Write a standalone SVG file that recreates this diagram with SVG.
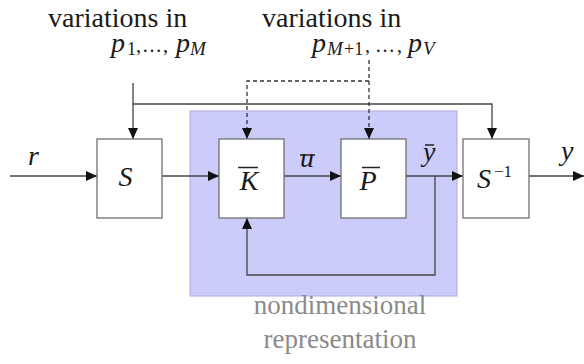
<svg xmlns="http://www.w3.org/2000/svg" width="584" height="364" viewBox="0 0 584 364">
<style>
.it{font-style:italic}
.box{fill:#ffffff;stroke:#707070;stroke-width:1.3}
.ln{fill:none;stroke:#444444;stroke-width:1.3}
.dash{fill:none;stroke:#333333;stroke-width:1.3;stroke-dasharray:4 3}
.bar{stroke:#222222;stroke-width:1.5}
</style>
<defs>
<marker id="ah" markerUnits="userSpaceOnUse" markerWidth="12" markerHeight="10" refX="11" refY="5" orient="auto">
<path d="M0,0 L11,5 L0,10 Z" fill="#111111"/>
</marker>
</defs>
<rect width="584" height="364" fill="#ffffff"/>
<g id="region">
<rect x="190" y="111" width="267" height="185" fill="#ccccfb" stroke="#a8a8dc" stroke-width="1"/>
<text x="340" y="314" font-size="27" text-anchor="middle" fill="#8a8a8a" font-family="Liberation Serif">nondimensional</text>
<text x="340" y="348" font-size="27" text-anchor="middle" fill="#8a8a8a" font-family="Liberation Serif">representation</text>
</g>
<g id="labels" fill="#1a1a1a">
<text x="48" y="27" font-size="28" font-family="Liberation Serif">variations in</text>
<text x="262" y="27" font-size="28" font-family="Liberation Serif">variations in</text>
<text y="52" font-size="28" font-family="Liberation Serif"><tspan class="it" x="111">p</tspan><tspan x="127" y="55" font-size="18">1</tspan><tspan x="136" y="52" font-size="20">,</tspan><tspan x="142" y="52" font-size="20">…</tspan><tspan x="163" y="52" font-size="20">,</tspan><tspan class="it" x="176" y="52">p</tspan><tspan class="it" x="190" y="55" font-size="19">M</tspan></text>
<text y="52" font-size="28" font-family="Liberation Serif"><tspan class="it" x="312" y="52">p</tspan><tspan class="it" x="327" y="55" font-size="19">M</tspan><tspan x="344" y="55" font-size="18">+1</tspan><tspan x="365" y="52" font-size="20">,</tspan><tspan x="375" y="52" font-size="20">…</tspan><tspan x="397" y="52" font-size="20">,</tspan><tspan class="it" x="408" y="52">p</tspan><tspan class="it" x="423" y="55" font-size="19">V</tspan></text>
<text class="it" x="28" y="165" font-size="28" font-family="Liberation Serif">r</text>
<text class="it" x="300" y="167" font-size="28" font-family="Liberation Serif">u</text>
<line class="bar" x1="300" y1="155" x2="315" y2="155"/>
<text class="it" x="423" y="161" font-size="28" font-family="Liberation Serif">y</text>
<line class="bar" x1="425" y1="145" x2="434" y2="145"/>
<text class="it" x="561" y="160" font-size="28" font-family="Liberation Serif">y</text>
</g>
<g id="connectors">
<line class="ln" x1="10" y1="176" x2="97" y2="176" marker-end="url(#ah)"/>
<line class="ln" x1="162" y1="176" x2="219" y2="176" marker-end="url(#ah)"/>
<line class="ln" x1="284" y1="176" x2="341" y2="176" marker-end="url(#ah)"/>
<line class="ln" x1="406" y1="176" x2="463" y2="176" marker-end="url(#ah)"/>
<line class="ln" x1="529" y1="176" x2="584" y2="176" marker-end="url(#ah)"/>
<polyline class="ln" points="133,83 133,139" marker-end="url(#ah)"/>
<polyline class="ln" points="133,104 492,104 492,139" marker-end="url(#ah)"/>
<polyline class="ln" points="435,176 435,275 247,275 247,218" marker-end="url(#ah)"/>
<polyline class="dash" points="369,60 369,139" marker-end="url(#ah)"/>
<polyline class="dash" points="369,81 247,81 247,139" marker-end="url(#ah)"/>
</g>
<g id="S" fill="#1a1a1a">
<rect class="box" x="97" y="139" width="65" height="79"/>
<text class="it" x="125.5" y="186" font-size="28" text-anchor="middle" font-family="Liberation Serif">S</text>
</g>
<g id="K" fill="#1a1a1a">
<rect class="box" x="219" y="139" width="65" height="79"/>
<text class="it" x="249" y="190" font-size="28" text-anchor="middle" font-family="Liberation Serif">K</text>
<line class="bar" x1="238" y1="167.5" x2="258" y2="167.5"/>
</g>
<g id="P" fill="#1a1a1a">
<rect class="box" x="341" y="139" width="65" height="79"/>
<text class="it" x="368" y="190" font-size="28" text-anchor="middle" font-family="Liberation Serif">P</text>
<line class="bar" x1="362" y1="167.5" x2="380" y2="167.5"/>
</g>
<g id="Sinv" fill="#1a1a1a">
<rect class="box" x="463" y="139" width="66" height="79"/>
<text class="it" x="477" y="188" font-size="28" font-family="Liberation Serif">S</text>
<text x="494" y="177" font-size="17" font-family="Liberation Serif">−1</text>
</g>
</svg>
